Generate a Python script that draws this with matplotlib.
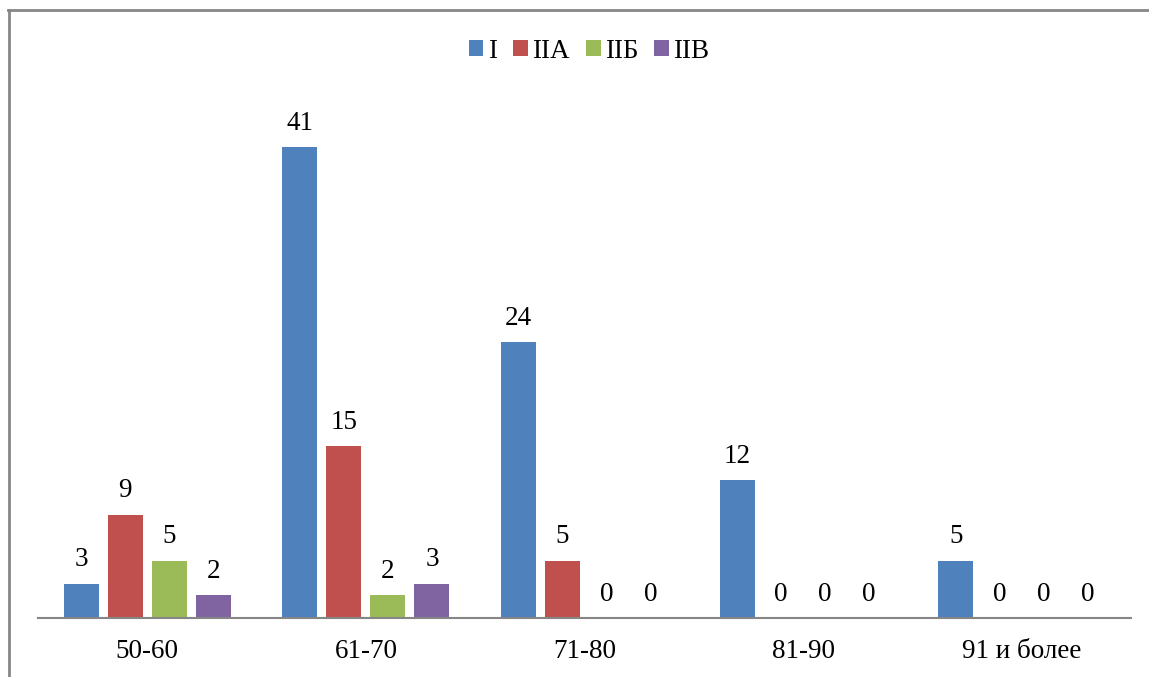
import matplotlib
matplotlib.use("Agg")
import matplotlib.pyplot as plt
from matplotlib.lines import Line2D
from matplotlib.patches import Patch
import numpy as np

categories = ["50-60", "61-70", "71-80", "81-90", "91 и более"]
series_names = ["I", "IIA", "IIБ", "IIВ"]
values_I = [3, 41, 24, 12, 5]
values_IIA = [9, 15, 5, 0, 0]
values_IIB = [5, 2, 0, 0, 0]
values_IIV = [2, 3, 0, 0, 0]
colors = ["#4F81BD", "#C0504D", "#9BBB59", "#8064A2"]

all_values = [values_I, values_IIA, values_IIB, values_IIV]

plt.rcParams['font.family'] = ['Liberation Serif', 'DejaVu Serif']

W, H = 1149, 677
fig = plt.figure(figsize=(W / 100, H / 100), dpi=100)
ax = fig.add_axes([38 / W, (H - 618) / H, (1131 - 38) / W, 517 / H])

x = np.arange(len(categories)) + 0.5
step = 0.2013
width = 0.16
for j, (vals, col) in enumerate(zip(all_values, colors)):
    pos = x + (j - 1.5) * step
    ax.bar(pos, vals, width=width, color=col, zorder=2)
    for p, v in zip(pos, vals):
        ax.annotate(str(v), (p, v), xytext=(0, 8), textcoords="offset points",
                    ha="center", va="bottom", fontsize=19.5, color="black")

ax.set_xlim(0, len(categories))
ax.set_ylim(0, 45)
ax.set_xticks(x)
ax.set_xticklabels(categories, fontsize=19.5)
ax.tick_params(axis="x", length=0, pad=15)
ax.set_yticks([])
for s in ["top", "right", "left"]:
    ax.spines[s].set_visible(False)
ax.spines["bottom"].set_color("#868686")
ax.spines["bottom"].set_linewidth(1.5)
ax.patch.set_alpha(0)

handles = [Patch(facecolor=c, edgecolor="none") for c in colors]
fig.legend(handles, series_names, loc="center", bbox_to_anchor=(589 / W, (H - 51) / H),
           ncol=4, frameon=False, fontsize=19.5, handlelength=0.55, handleheight=0.55,
           handletextpad=0.15, columnspacing=0.6)

# chart border (left and top edges visible)
fig.add_artist(Line2D([8.5 / W, 8.5 / W], [0, (H - 10) / H], color="#868686", lw=2,
                      transform=fig.transFigure))
fig.add_artist(Line2D([8 / W, 1], [(H - 10) / H, (H - 10) / H], color="#868686", lw=2,
                      transform=fig.transFigure))

fig.savefig("out.png", dpi=100)
